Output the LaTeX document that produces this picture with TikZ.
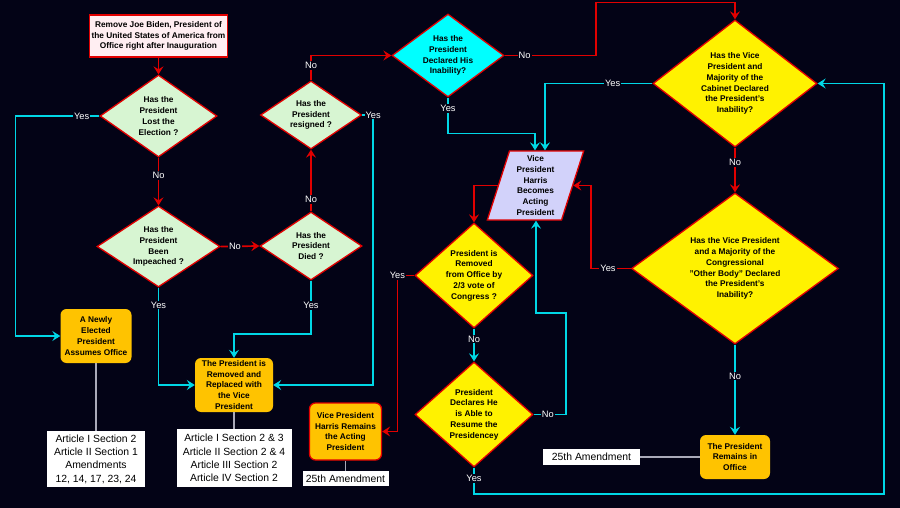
\documentclass[tikz,border=0pt]{standalone}
\usepackage{fontspec}
\setmainfont{Liberation Sans}
\usepackage{tikz}
\usetikzlibrary{arrows.meta,shapes.geometric}

\definecolor{night}{RGB}{3,3,22}
\definecolor{flowred}{RGB}{225,0,0}
\definecolor{flowcyan}{RGB}{0,215,230}
\definecolor{skycyan}{RGB}{0,255,255}
\definecolor{palegreen}{RGB}{215,245,210}
\definecolor{startpink}{RGB}{255,238,242}
\definecolor{lavender}{RGB}{210,210,250}
\definecolor{boxorange}{RGB}{255,195,0}
\definecolor{linkgray}{RGB}{170,170,185}

\begin{document}
\begin{tikzpicture}[>={Stealth[length=8pt,width=10pt,inset=3pt]}, x=1pt, y=-1pt,
	txt/.style={font=\fontsize{8.3}{10.8}\selectfont\bfseries, align=center, inner sep=0pt, text=black},
	decision/.style={txt, diamond, aspect=1.35, draw=flowred, line width=1.3pt},
	outcome/.style={txt, rectangle, rounded corners=6pt, fill=boxorange},
	source/.style={rectangle, fill=white, inner sep=0pt, align=center, font=\fontsize{10.4}{13.3}\selectfont},
	lbl/.style={fill=night, text=white, inner sep=1pt, font=\fontsize{9.3}{11}\selectfont},
	redarrow/.style={->, draw=flowred, line width=1.7pt},
	cyanarrow/.style={->, draw=flowcyan, line width=1.7pt},
	cite/.style={draw=linkgray, line width=1.3pt}]
			\fill[night] (0,0) rectangle (900,508);
			\useasboundingbox (0,0) rectangle (900,508);
			\node[txt, draw=flowred, fill=startpink, line width=1.3pt, minimum width=138, minimum height=42] (start) at (158.5,36) {Remove Joe Biden, President of\\the United States of America from\\Office right after Inauguration};
			\node[decision, fill=palegreen, aspect=1.43, minimum width=117, minimum height=82] (lost) at (158.5,116) {Has the\\President\\Lost the\\Election ?};
			\node[decision, fill=palegreen, aspect=1.52, minimum width=123, minimum height=81] (impeach) at (158.5,246.5) {Has the\\President\\Been\\Impeached ?};
			\node[decision, fill=palegreen, aspect=1.5, minimum width=102, minimum height=68] (died) at (311,246) {Has the\\President\\Died ?};
			\node[decision, fill=palegreen, aspect=1.5, minimum width=101, minimum height=68] (resign) at (311,115) {Has the\\President\\resigned ?};
			\node[decision, fill=skycyan, minimum width=112, minimum height=83] (inab) at (448,55.5) {Has the\\President\\Declared His\\Inability?};
			\node[decision, fill=yellow, aspect=1.29, minimum width=164, minimum height=127] (cabinet) at (735,83.5) {Has the Vice\\President and\\Majority of the\\Cabinet Declared\\the President's\\Inability?};
			\node[decision, fill=yellow, aspect=1.37, minimum width=207, minimum height=151] (congress) at (735,268.5) {Has the Vice President\\and a Majority of the\\Congressional\\''Other Body'' Declared\\the President's\\Inability?};
			\node[txt, trapezium, trapezium left angle=75, trapezium right angle=105, trapezium stretches=true, draw=flowred, fill=lavender, line width=1.3pt, minimum width=97, minimum height=69] (acting) at (535.5,185.5) {Vice\\President\\Harris\\Becomes\\Acting\\President};
			\node[decision, fill=yellow, aspect=1.12, minimum width=118, minimum height=105] (removed) at (474,275.5) {President is\\Removed\\from Office by\\2/3 vote of\\Congress ?};
			\node[decision, fill=yellow, aspect=1.12, minimum width=118, minimum height=105] (resume) at (474,414.5) {President\\Declares He\\is Able to\\Resume the\\Presidencey};
			\node[outcome, minimum width=71, minimum height=54] (newpres) at (96,336) {A Newly\\Elected\\President\\Assumes Office};
			\node[outcome, minimum width=78, minimum height=54] (replaced) at (234,385) {The President is\\Removed and\\Replaced with\\the Vice\\President};
			\node[outcome, draw=flowred, line width=1.3pt, minimum width=72, minimum height=57] (remains) at (345.5,431.5) {Vice President\\Harris Remains\\the Acting\\President};
			\node[outcome, minimum width=70, minimum height=44] (stays) at (735,457) {The President\\Remains in\\Office};
			\node[source, minimum width=98, minimum height=56] (art1) at (96,459) {Article I Section 2\\Article II Section 1\\Amendments\\12, 14, 17, 23, 24};
			\node[source, minimum width=115, minimum height=58] (art2) at (234,458) {Article I Section 2 \& 3\\Article II Section 2 \& 4\\Article III Section 2\\Article IV Section 2};
			\node[source, minimum width=86, minimum height=15] (amend1) at (345.5,478.5) {25th Amendment};
			\node[source, minimum width=97, minimum height=16] (amend2) at (591.5,457) {25th Amendment};
			\draw[redarrow] (start.south) -- (lost.north);
			\draw[redarrow] (lost.south) -- node[lbl, pos=0.37]{No} (impeach.north);
			\draw[cyanarrow] (lost.west) -- node[lbl, pos=0.21]{Yes} ++(-84,0) |- (newpres.west);
			\draw[cyanarrow] (impeach.south) |- node[lbl, pos=0.09]{Yes} (replaced.west);
			\draw[redarrow] (impeach.east) -- node[lbl, pos=0.37]{No} (died.west);
			\draw[cyanarrow] (died.south) -- node[lbl, pos=0.47]{Yes} ++(0,53) -| (replaced.north);
			\draw[redarrow] (died.north) -- node[lbl, pos=0.19]{No} (resign.south);
			\draw[redarrow] (resign.north) |- node[lbl, pos=0.3]{No} (inab.west);
			\draw[cyanarrow] (resign.east) -- ++(11,0) node[lbl]{Yes} |- (replaced.east);
			\draw[redarrow] (inab.east) -- node[lbl, pos=0.22]{No} ++(91,0) -- ++(0,-53) -| (cabinet.north);
			\draw[cyanarrow] (inab.south) -- node[lbl, pos=0.3]{Yes} ++(0,36) -| ([xshift=-0.5pt]acting.north);
			\draw[cyanarrow] (cabinet.west) -| node[lbl, pos=0.185]{Yes} ([xshift=9.5pt]acting.north);
			\draw[redarrow] (cabinet.south) -- node[lbl, pos=0.33]{No} (congress.north);
			\draw[redarrow] (congress.west) -- node[lbl, pos=0.57]{Yes} ++(-40,0) |- (acting.east);
			\draw[cyanarrow] (congress.south) -- node[lbl, pos=0.35]{No} (stays.north);
			\draw[cite] (amend2.east) -- (stays.west);
			\draw[redarrow] (acting.west) -| (removed.north);
			\draw[redarrow] (removed.west) -- ++(-17,0) node[lbl]{Yes} |- (remains.east);
			\draw[cyanarrow] (removed.south) -- node[lbl, pos=0.32]{No} (resume.north);
			\draw[cyanarrow] (resume.east) -- node[lbl, pos=0.44]{No} ++(32,0) -- ++(0,-101.5) -| ([xshift=0.5pt]acting.south);
			\draw[cyanarrow] (resume.south) -- node[lbl, pos=0.42]{Yes} ++(0,26) -- ++(410,0) |- (cabinet.east);
			\draw[cite] (remains.south) -- (amend1.north);
			\draw[cite] (newpres.south) -- (art1.north);
			\draw[cite] (replaced.south) -- (art2.north);
		\end{tikzpicture}
\end{document}
